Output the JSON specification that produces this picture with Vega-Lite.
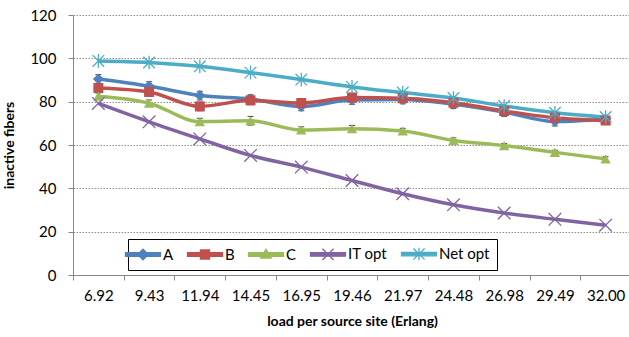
{
  "$schema": "https://vega.github.io/schema/vega-lite/v6.json",
  "width": 558,
  "height": 260,
  "autosize": {"type": "none"},
  "padding": {"left": 73, "top": 15, "right": 0, "bottom": 62},
  "background": "white",
  "config": {
    "font": "Lato",
    "view": {"stroke": null},
    "axis": {"labelFont": "Lato", "titleFont": "Lato", "labelFontSize": 15, "titleFontSize": 14, "labelColor": "#000", "titleColor": "#000", "titleFontWeight": "bold"},
    "legend": {
      "title": null, "orient": "none", "direction": "horizontal", "legendX": 55, "legendY": 224,
      "strokeColor": "#000", "padding": 7, "fillColor": "white",
      "labelFont": "Lato", "labelFontSize": 15, "labelColor": "#000", "labelOffset": 12,
      "symbolSize": 196, "columnPadding": 10
    }
  },
  "data": {"values": [
    {"x": 6.92, "s": "A", "y": 90.5, "e": 2},
    {"x": 9.43, "s": "A", "y": 87.2, "e": 2},
    {"x": 11.94, "s": "A", "y": 82.8, "e": 2},
    {"x": 14.45, "s": "A", "y": 81.2, "e": 2},
    {"x": 16.95, "s": "A", "y": 77.8, "e": 2},
    {"x": 19.46, "s": "A", "y": 80.8, "e": 2},
    {"x": 21.97, "s": "A", "y": 81.0, "e": 2},
    {"x": 24.48, "s": "A", "y": 78.8, "e": 2},
    {"x": 26.98, "s": "A", "y": 75.2, "e": 2},
    {"x": 29.49, "s": "A", "y": 70.8, "e": 2},
    {"x": 32.00, "s": "A", "y": 72.0, "e": 1},
    {"x": 6.92, "s": "B", "y": 86.3, "e": 2},
    {"x": 9.43, "s": "B", "y": 84.5, "e": 2},
    {"x": 11.94, "s": "B", "y": 77.8, "e": 2},
    {"x": 14.45, "s": "B", "y": 80.6, "e": 2},
    {"x": 16.95, "s": "B", "y": 79.4, "e": 2},
    {"x": 19.46, "s": "B", "y": 81.9, "e": 2},
    {"x": 21.97, "s": "B", "y": 81.6, "e": 2},
    {"x": 24.48, "s": "B", "y": 79.5, "e": 2},
    {"x": 26.98, "s": "B", "y": 75.7, "e": 2},
    {"x": 29.49, "s": "B", "y": 72.6, "e": 2},
    {"x": 32.00, "s": "B", "y": 71.3, "e": 1},
    {"x": 6.92, "s": "C", "y": 82.5, "e": 1.5},
    {"x": 9.43, "s": "C", "y": 79.3, "e": 1.5},
    {"x": 11.94, "s": "C", "y": 70.8, "e": 1.5},
    {"x": 14.45, "s": "C", "y": 71.2, "e": 2},
    {"x": 16.95, "s": "C", "y": 66.9, "e": 1.5},
    {"x": 19.46, "s": "C", "y": 67.5, "e": 1.5},
    {"x": 21.97, "s": "C", "y": 66.5, "e": 1.2},
    {"x": 24.48, "s": "C", "y": 62.1, "e": 1.2},
    {"x": 26.98, "s": "C", "y": 59.7, "e": 1},
    {"x": 29.49, "s": "C", "y": 56.6, "e": 1},
    {"x": 32.00, "s": "C", "y": 53.6, "e": 1},
    {"x": 6.92, "s": "IT opt", "y": 79.2},
    {"x": 9.43, "s": "IT opt", "y": 70.7},
    {"x": 11.94, "s": "IT opt", "y": 62.8},
    {"x": 14.45, "s": "IT opt", "y": 55.2},
    {"x": 16.95, "s": "IT opt", "y": 49.8},
    {"x": 19.46, "s": "IT opt", "y": 43.6},
    {"x": 21.97, "s": "IT opt", "y": 37.5},
    {"x": 24.48, "s": "IT opt", "y": 32.4},
    {"x": 26.98, "s": "IT opt", "y": 28.6},
    {"x": 29.49, "s": "IT opt", "y": 25.7},
    {"x": 32.00, "s": "IT opt", "y": 23.0},
    {"x": 6.92, "s": "Net opt", "y": 98.8},
    {"x": 9.43, "s": "Net opt", "y": 98.1},
    {"x": 11.94, "s": "Net opt", "y": 96.3},
    {"x": 14.45, "s": "Net opt", "y": 93.4},
    {"x": 16.95, "s": "Net opt", "y": 90.2},
    {"x": 19.46, "s": "Net opt", "y": 86.8},
    {"x": 21.97, "s": "Net opt", "y": 84.2},
    {"x": 24.48, "s": "Net opt", "y": 81.7},
    {"x": 26.98, "s": "Net opt", "y": 78.0},
    {"x": 29.49, "s": "Net opt", "y": 74.9},
    {"x": 32.00, "s": "Net opt", "y": 72.9}
  ]},
  "encoding": {
    "x": {
      "field": "x", "type": "ordinal",
      "scale": {"type": "band", "paddingInner": 0, "paddingOuter": 0},
      "axis": {"title": "load per source site (Erlang)", "format": ".2f", "labelAngle": 0, "tickBand": "extent", "domainColor": "#868686", "tickColor": "#868686", "tickSize": 5, "labelPadding": 8, "titlePadding": 11, "grid": false}
    },
    "y": {"field": "y", "type": "quantitative", "scale": {"domain": [0, 120]},
      "axis": {"title": "inactive fibers", "values": [0, 20, 40, 60, 80, 100, 120], "domainColor": "#868686", "tickColor": "#868686", "tickSize": 5, "labelPadding": 12, "titlePadding": 13, "gridColor": "#8c8c8c", "gridDash": [1.5, 1.5], "gridWidth": 1}}
  },
  "layer": [
    {
      "transform": [{"filter": "isValid(datum.e)"}, {"calculate": "datum.y - datum.e", "as": "lo"}, {"calculate": "datum.y + datum.e", "as": "hi"}],
      "mark": {"type": "errorbar", "ticks": {"size": 6, "color": "black", "strokeWidth": 1.5}, "rule": {"color": "black", "strokeWidth": 1}},
      "encoding": {
        "y": {"field": "lo", "type": "quantitative", "scale": {"domain": [0, 120]}, "title": "inactive fibers"},
        "y2": {"field": "hi"}
      }
    },
    {
      "mark": {"type": "line", "interpolate": "monotone", "strokeWidth": 3.5},
      "encoding": {
        "color": {"field": "s", "type": "nominal", "scale": {"domain": ["A", "B", "C", "IT opt", "Net opt"], "range": ["#4F81BD", "#C0504D", "#9BBB59", "#8064A2", "#4BACC6"]},
          "legend": {"encode": {"symbols": {"update": {
              "shape": {"signal": "datum.value === 'A' ? 'M-2.5,-0.25L2.5,-0.25L2.5,0.25L-2.5,0.25ZM0,-0.75L0.75,0L0,0.75L-0.75,0Z' : datum.value === 'B' ? 'M-2.5,-0.25L2.5,-0.25L2.5,0.25L-2.5,0.25ZM-0.65,-0.65L0.65,-0.65L0.65,0.65L-0.65,0.65Z' : datum.value === 'C' ? 'M-2.5,-0.25L2.5,-0.25L2.5,0.25L-2.5,0.25ZM0,-0.75L0.75,0.5L-0.75,0.5Z' : datum.value === 'IT opt' ? 'M-2.5,-0.25L2.5,-0.25L2.5,0.25L-2.5,0.25ZM-0.8,-0.8L0.8,0.8M-0.8,0.8L0.8,-0.8' : 'M-2.5,-0.25L2.5,-0.25L2.5,0.25L-2.5,0.25ZM-0.8,-0.8L0.8,0.8M-0.8,0.8L0.8,-0.8M0,-0.9L0,0.9'"},
              "fill": {"signal": "datum.value === 'A' ? '#4F81BD' : datum.value === 'B' ? '#C0504D' : datum.value === 'C' ? '#9BBB59' : datum.value === 'IT opt' ? '#8064A2' : '#4BACC6'"},
              "stroke": {"signal": "datum.value === 'A' ? '#4F81BD' : datum.value === 'B' ? '#C0504D' : datum.value === 'C' ? '#9BBB59' : datum.value === 'IT opt' ? '#8064A2' : '#4BACC6'"},
              "strokeWidth": {"value": 1.3},
              "opacity": {"value": 1},
              "size": {"value": 196}
            }}}}
        }
      }
    },
    {
      "transform": [{"filter": "datum.s === 'A'"}],
      "mark": {"type": "point", "shape": "diamond", "filled": true, "color": "#4F81BD", "size": 120, "opacity": 1}
    },
    {
      "transform": [{"filter": "datum.s === 'B'"}],
      "mark": {"type": "point", "shape": "square", "filled": true, "color": "#C0504D", "size": 100, "opacity": 1}
    },
    {
      "transform": [{"filter": "datum.s === 'C'"}],
      "mark": {"type": "point", "shape": "triangle-up", "filled": true, "color": "#9BBB59", "size": 110, "opacity": 1}
    },
    {
      "transform": [{"filter": "datum.s === 'IT opt'"}],
      "mark": {"type": "point", "shape": "M-1.2,-1.2L1.2,1.2M-1.2,1.2L1.2,-1.2", "filled": false, "color": "#8064A2", "strokeWidth": 1.3, "size": 110, "opacity": 1}
    },
    {
      "transform": [{"filter": "datum.s === 'Net opt'"}],
      "mark": {"type": "point", "shape": "M-1.1,-1.1L1.1,1.1M-1.1,1.1L1.1,-1.1M0,-1.3L0,1.3", "filled": false, "color": "#4BACC6", "strokeWidth": 1.3, "size": 110, "opacity": 1}
    }
  ]
}
